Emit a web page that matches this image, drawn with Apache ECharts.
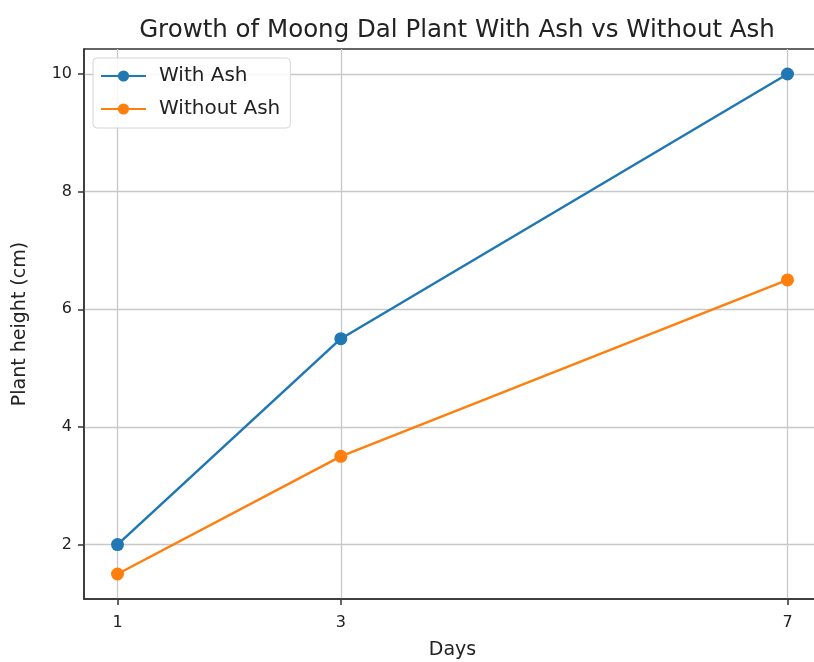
<!DOCTYPE html>
<html>
<head>
<meta charset="utf-8">
<script src="https://cdn.jsdelivr.net/npm/echarts@6/dist/echarts.min.js"></script>
<style>
  html, body { margin: 0; padding: 0; background: #fff; }
  #chart { width: 814px; height: 662px; }
</style>
</head>
<body>
<div id="chart"></div>
<script>
  // 数据
  const days = [1, 3, 7]
  const withAsh = [2, 5.5, 10]
  const withoutAsh = [1.5, 3.5, 6.5]
  const xTicks = [1, 3, 7]
  const yTicks = [2, 4, 6, 8, 10]

  const myChart = echarts.init(document.getElementById('chart'))
  const font = 'DejaVu Sans'

  const pairs = (xs, ys) => xs.map((x, i) => [x, ys[i]])

  const option = {
    backgroundColor: '#fff',
    animation: false,
    title: {
      text: 'Growth of Moong Dal Plant With Ash vs Without Ash',
      left: 452,
      textAlign: 'center',
      top: 13,
      textStyle: { fontFamily: font, fontSize: 24.5, fontWeight: 'normal', color: '#222' }
    },
    legend: {
      left: 93,
      top: 58,
      orient: 'vertical',
      itemWidth: 45,
      itemHeight: 14,
      itemGap: 13,
      padding: [8, 10, 9, 7],
      backgroundColor: 'rgba(255,255,255,0.85)',
      borderColor: '#d6d6d6',
      borderWidth: 1,
      borderRadius: 4,
      textStyle: { fontFamily: font, fontSize: 20, color: '#222', padding: [0, 0, 0, 8] },
      data: ['With Ash', 'Without Ash']
    },
    grid: {
      left: 84, top: 49, width: 737, height: 550,
      containLabel: false, outerBoundsMode: 'none',
      show: true, borderColor: '#333', borderWidth: 1.5
    },
    xAxis: {
      type: 'value',
      min: 0.7,
      max: 7.3,
      name: 'Days',
      nameLocation: 'middle',
      nameGap: 42,
      nameTextStyle: { fontFamily: font, fontSize: 19, color: '#222' },
      axisLine: { show: true, onZero: false, lineStyle: { color: '#333', width: 1.5 } },
      axisTick: { show: true, length: 6, customValues: xTicks, lineStyle: { color: '#333', width: 1.5 } },
      axisLabel: { customValues: xTicks, fontFamily: font, fontSize: 16, color: '#222', margin: 16 },
      splitLine: { show: true, lineStyle: { color: '#c8c8c8', width: 1.3 } }
    },
    yAxis: {
      type: 'value',
      min: 1.075,
      max: 10.425,
      name: 'Plant height (cm)',
      nameLocation: 'middle',
      nameGap: 54,
      nameTextStyle: { fontFamily: font, fontSize: 19, color: '#222' },
      axisLine: { show: true, onZero: false, lineStyle: { color: '#333', width: 1.5 } },
      axisTick: { show: true, length: 6, customValues: yTicks, lineStyle: { color: '#333', width: 1.5 } },
      axisLabel: { customValues: yTicks, fontFamily: font, fontSize: 16, color: '#222', margin: 12 },
      splitLine: { show: true, lineStyle: { color: '#c8c8c8', width: 1.3 } }
    },
    series: [
      {
        name: 'With Ash',
        type: 'line',
        symbol: 'circle',
        symbolSize: 13,
        lineStyle: { color: '#1f77b4', width: 2.5 },
        itemStyle: { color: '#1f77b4' },
        data: pairs(days, withAsh)
      },
      {
        name: 'Without Ash',
        type: 'line',
        symbol: 'circle',
        symbolSize: 13,
        lineStyle: { color: '#ff7f0e', width: 2.5 },
        itemStyle: { color: '#ff7f0e' },
        data: pairs(days, withoutAsh)
      }
    ]
  }
  myChart.setOption(option)
</script>
</body>
</html>
